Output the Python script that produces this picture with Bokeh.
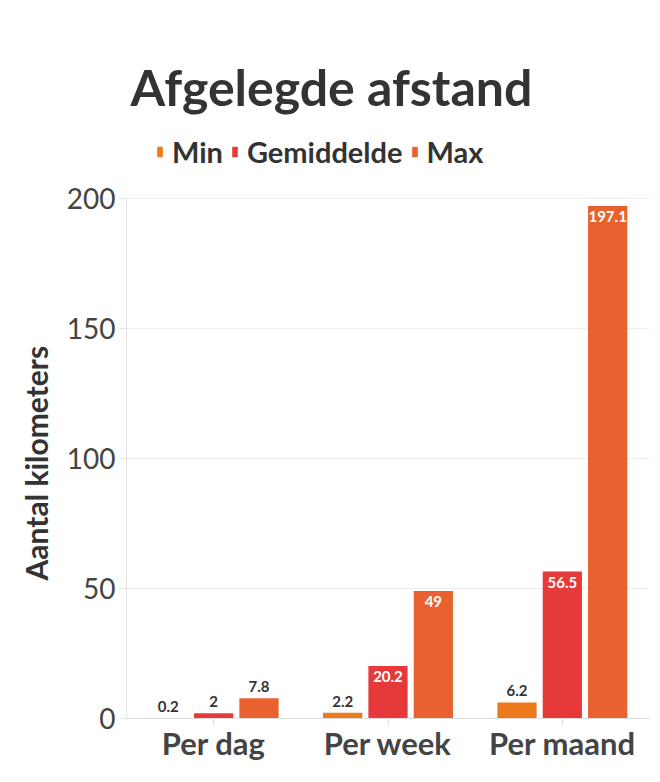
from bokeh.plotting import figure
from bokeh.models import (ColumnDataSource, Legend, LegendItem, LabelSet, FactorRange, Range1d,
                          FixedTicker, Title)
from bokeh.core.properties import value
from bokeh.transform import dodge
from bokeh.embed import file_html
from bokeh.resources import INLINE

categories = ["Per dag", "Per week", "Per maand"]
series = ["Min", "Gemiddelde", "Max"]
min_vals = [0.2, 2.2, 6.2]
avg_vals = [2, 20.2, 56.5]
max_vals = [7.8, 49, 197.1]
colors = ["#ec7a1c", "#e63a3a", "#e8612f"]
y_ticks = [0, 50, 100, 150, 200]

FONT = "Lato"
PLOT_H = 520      # pixels for the 0..200 data area
FRAME_H = 593     # frame extends above to hold the legend
y_end = y_ticks[-1] * FRAME_H / PLOT_H

p = figure(x_range=FactorRange(*categories), y_range=Range1d(0, y_end),
           frame_width=523, frame_height=FRAME_H, output_backend="svg", toolbar_location=None,
           min_border_left=126, min_border_right=3, min_border_top=125, min_border_bottom=56)

p.title.text = "Afgelegde afstand"
p.title.align = "left"
p.title.offset = 4
p.title.standoff = 18
p.title.text_font = FONT
p.title.text_font_size = "50px"
p.title.text_font_style = "bold"
p.title.text_color = "#333333"

offsets = [-0.26, 0.0, 0.26]
items = []
for name, vals, col, off in zip(series, [min_vals, avg_vals, max_vals], colors, offsets):
    src = ColumnDataSource(dict(cat=categories, val=vals))
    r = p.vbar(x=dodge("cat", off, range=p.x_range), top="val", width=0.225, source=src,
               fill_color=col, line_color=None)
    items.append(LegendItem(label=name, renderers=[r]))
    inside = [v > 10 for v in vals]
    src_in = ColumnDataSource(dict(cat=[c for c, i in zip(categories, inside) if i],
                                   val=[v for v, i in zip(vals, inside) if i],
                                   txt=[f"{v:g}" for v, i in zip(vals, inside) if i]))
    src_out = ColumnDataSource(dict(cat=[c for c, i in zip(categories, inside) if not i],
                                    val=[v for v, i in zip(vals, inside) if not i],
                                    txt=[f"{v:g}" for v, i in zip(vals, inside) if not i]))
    p.add_layout(LabelSet(x=dodge("cat", off, range=p.x_range), y="val", text="txt", source=src_in,
                          text_align="center", text_baseline="top", y_offset=-5,
                          text_font=value(FONT), text_font_size=value("15px"), text_font_style="bold",
                          text_color="white"))
    p.add_layout(LabelSet(x=dodge("cat", off, range=p.x_range), y="val", text="txt", source=src_out,
                          text_align="center", text_baseline="bottom", y_offset=6,
                          text_font=value(FONT), text_font_size=value("15px"), text_font_style="bold",
                          text_color="#333333"))

legend = Legend(items=items, orientation="horizontal", location=(30, 549),
                label_text_font=FONT, label_text_font_size="29px", label_text_font_style="bold",
                label_text_color="#333333", glyph_width=7, glyph_height=13,
                label_standoff=9, spacing=8, padding=0, margin=0,
                background_fill_alpha=0, border_line_color=None)
p.add_layout(legend)

p.yaxis.ticker = FixedTicker(ticks=y_ticks)
p.yaxis.bounds = (y_ticks[0], y_ticks[-1])
p.yaxis.major_label_text_font = FONT
p.yaxis.major_label_text_font_size = "28px"
p.yaxis.major_label_text_color = "#444444"
p.yaxis.axis_line_color = "#e6e6e6"
p.yaxis.major_tick_line_color = "#e6e6e6"
p.yaxis.major_tick_out = 7
p.yaxis.major_tick_in = 0
p.yaxis.minor_tick_line_color = None
p.yaxis.major_label_standoff = 4

ylab = Title(text="Aantal kilometers", align="left", offset=138, standoff=19,
             text_font=FONT, text_font_size="30px", text_font_style="bold", text_color="#333333")
p.add_layout(ylab, "left")

p.xaxis.major_label_text_font = FONT
p.xaxis.major_label_text_font_size = "31px"
p.xaxis.major_label_text_font_style = "bold"
p.xaxis.major_label_text_color = "#444444"
p.xaxis.axis_line_color = "#dddddd"
p.xaxis.major_tick_line_color = "#dddddd"
p.xaxis.major_tick_out = 7
p.xaxis.major_tick_in = 0
p.xaxis.major_label_standoff = -2

p.xgrid.grid_line_color = None
p.ygrid.grid_line_color = "#eeeeee"
p.outline_line_color = None

open("out.html", "w").write(file_html(p, INLINE))
